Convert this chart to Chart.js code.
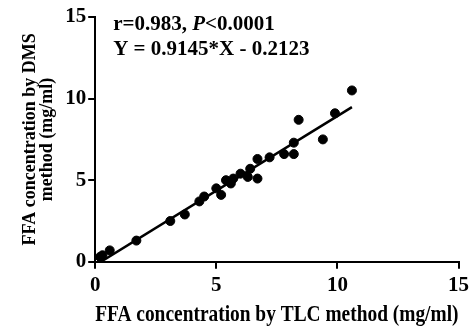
<!DOCTYPE html>
<html>
<head>
<meta charset="utf-8">
<script src="https://cdn.jsdelivr.net/npm/chart.js@4.4.0/dist/chart.umd.min.js"></script>
<style>
  html, body { margin: 0; padding: 0; background: #fff; }
  #wrap { width: 473px; height: 329px; }
</style>
</head>
<body>
<div id="wrap"><canvas id="scatter"></canvas></div>
<script>
// FFA measured by TLC (x) and DMS (y), mg/ml
const tlcValues = [0.2, 0.3, 0.6, 1.7, 3.1, 3.7, 4.3, 4.5, 5.0, 5.2, 5.4, 5.6, 5.7, 6.0, 6.3, 6.4, 6.7, 6.7, 7.2, 7.8, 8.2, 8.2, 8.4, 9.4, 9.9, 10.6];
const dmsValues = [0.3, 0.4, 0.7, 1.3, 2.5, 2.9, 3.7, 4.0, 4.5, 4.1, 5.0, 4.8, 5.1, 5.4, 5.2, 5.7, 6.3, 5.1, 6.4, 6.6, 6.6, 7.3, 8.7, 7.5, 9.1, 10.5];

// Linear fit reported on the figure
const fitSlope = 0.9145;
const fitIntercept = -0.2123;
const fitRange = [0.2321, 10.6];

const axisTicks = [0, 5, 10, 15];
const xTitle = 'FFA concentration by TLC method (mg/ml)';
const yTitle = ['FFA concentration by DMS', 'method (mg/ml)'];
const statLine1 = ['r=0.983, ', 'P', '<0.0001'];
const statLine2 = 'Y = 0.9145*X - 0.2123';

const FONT = "'Liberation Serif', 'Times New Roman', serif";
const FONT_SIZE = 21;

const points = tlcValues.map((x, i) => ({ x: x, y: dmsValues[i] }));
const fitLine = fitRange.map(x => ({ x: x, y: fitSlope * x + fitIntercept }));

// Stats text in the upper left of the plot
const statsPlugin = {
    id: 'stats',
    afterDraw(chart) {
        const ctx = chart.ctx;
        const left = chart.chartArea.left + 18;
        const top = chart.chartArea.top;
        ctx.save();
        ctx.fillStyle = '#000';
        ctx.textBaseline = 'alphabetic';
        ctx.textAlign = 'left';
        let x = left;
        statLine1.forEach((part, i) => {
            ctx.font = (i === 1 ? 'italic bold ' : 'bold ') + FONT_SIZE + 'px ' + FONT;
            ctx.fillText(part, x, top + 13);
            x += ctx.measureText(part).width;
        });
        ctx.font = 'bold ' + FONT_SIZE + 'px ' + FONT;
        ctx.fillText(statLine2, left, top + 38);
        ctx.restore();
    }
};

const axisStyle = (titleText, titleSize) => ({
    type: 'linear',
    min: 0,
    max: 15,
    afterBuildTicks: axis => { axis.ticks = axisTicks.map(v => ({ value: v })); },
    border: { display: true, color: '#000', width: 2 },
    grid: {
        display: true,
        drawOnChartArea: false,
        drawTicks: true,
        tickLength: 7,
        color: '#000',
        lineWidth: 2
    },
    ticks: {
        color: '#000',
        padding: 2,
        font: { family: FONT, size: FONT_SIZE, weight: 'bold' }
    },
    title: {
        display: true,
        text: titleText,
        color: '#000',
        font: { family: FONT, size: titleSize, weight: 'bold', lineHeight: 1.0 }
    }
});

const xAxis = axisStyle(xTitle, 24);
xAxis.ticks.padding = 4;
xAxis.title.padding = { top: 1, bottom: 0 };
const yAxis = axisStyle(yTitle, 18);
yAxis.title.padding = { top: 0, bottom: 7 };
yAxis.title.font.lineHeight = 0.95;

new Chart(document.getElementById('scatter'), {
    type: 'scatter',
    data: {
        datasets: [
            {
                label: 'samples',
                data: points,
                backgroundColor: '#000',
                borderColor: '#000',
                pointRadius: 4.5,
                pointHoverRadius: 4.5
            },
            {
                type: 'line',
                label: 'fit',
                data: fitLine,
                borderColor: '#000',
                borderWidth: 2.5,
                pointRadius: 0,
                fill: false
            }
        ]
    },
    options: {
        responsive: true,
        maintainAspectRatio: false,
        animation: false,
        layout: { padding: { top: 17, right: 0, left: 22, bottom: 2 } },
        plugins: {
            legend: { display: false },
            tooltip: { enabled: false }
        },
        scales: { x: xAxis, y: yAxis }
    },
    plugins: [statsPlugin]
});
</script>
</body>
</html>
